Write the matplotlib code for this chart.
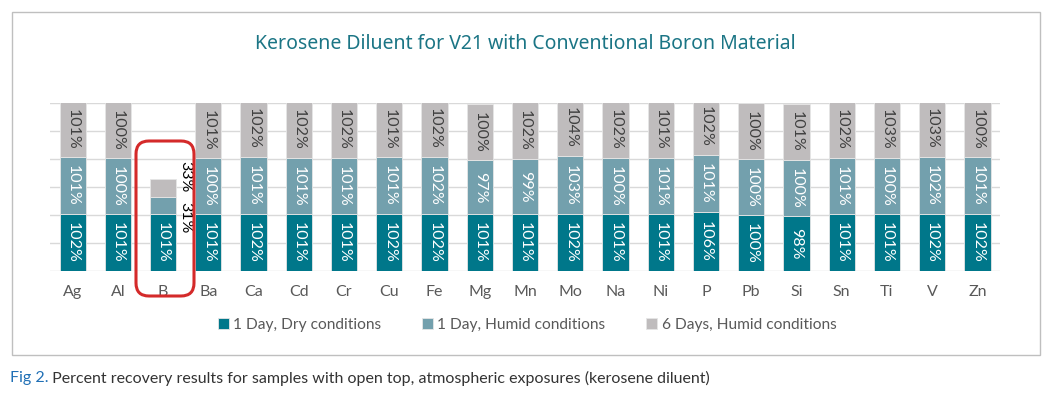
import matplotlib
matplotlib.use("Agg")
import matplotlib.pyplot as plt
from matplotlib.patches import FancyBboxPatch, Rectangle
from matplotlib.transforms import IdentityTransform
import numpy as np

categories = ["Ag", "Al", "B", "Ba", "Ca", "Cd", "Cr", "Cu", "Fe", "Mg", "Mn",
              "Mo", "Na", "Ni", "P", "Pb", "Si", "Sn", "Ti", "V", "Zn"]
dry_1day = [102, 101, 101, 101, 102, 101, 101, 102, 102, 101, 101,
            102, 101, 101, 106, 100, 98, 101, 101, 102, 102]
humid_1day = [101, 100, 31, 100, 101, 101, 101, 101, 102, 97, 99,
              103, 100, 101, 101, 100, 100, 101, 100, 102, 101]
humid_6day = [101, 100, 33, 101, 102, 102, 102, 101, 102, 100, 102,
              104, 102, 101, 102, 100, 101, 102, 103, 103, 100]
series_names = ["1 Day, Dry conditions", "1 Day, Humid conditions", "6 Days, Humid conditions"]
title = "Kerosene Diluent for V21 with Conventional Boron Material"
caption_lead = "Fig 2."
caption_rest = " Percent recovery results for samples with open top, atmospheric exposures (kerosene diluent)"

colors = ["#00778a", "#73a0ad", "#bfbcbd"]
label_colors = ["white", "white", "#404040"]
font = "Lato"

W, H = 1054, 393
fig = plt.figure(figsize=(W / 100, H / 100), dpi=100)
ax = fig.add_axes([50 / W, (H - 271) / H, 950 / W, 168 / H])

x = np.arange(len(categories))
series = [np.array(dry_1day), np.array(humid_1day), np.array(humid_6day)]
bottom = np.zeros(len(categories))
outside_idx = categories.index("B")
for s, (vals, col, lc, name) in enumerate(zip(series, colors, label_colors, series_names)):
    ax.bar(x, vals, bottom=bottom, width=0.58, color=col, edgecolor="#e6e6e6",
           linewidth=0.6, label=name, zorder=3)
    for i, v in enumerate(vals):
        if i == outside_idx and s > 0:
            continue
        ax.text(x[i], bottom[i] + v / 2, f"{v}%", rotation=270, ha="center", va="center",
                color=lc, fontsize=11.5, family=font, zorder=4)
    bottom = bottom + vals

# outside labels for B
bi = outside_idx
ax.text(bi + 0.5, bottom[bi] + 3, f"{humid_6day[bi]}%", rotation=270, ha="center", va="center",
        color="black", fontsize=11.5, family=font, zorder=4)
ax.text(bi + 0.5, dry_1day[bi] - 6, f"{humid_1day[bi]}%", rotation=270, ha="center", va="center",
        color="black", fontsize=11.5, family=font, zorder=4)

ax.set_xlim(-0.5, len(categories) - 0.5)
ax.set_ylim(0, 300)
ax.set_yticks(np.arange(0, 301, 50))
ax.yaxis.grid(True, color="#d9d9d9", linewidth=1, zorder=0)
ax.tick_params(axis="y", left=False, labelleft=False)
ax.set_xticks(x)
ax.set_xticklabels(categories, fontsize=11.5, family=font, color="#595959")
ax.tick_params(axis="x", length=0, pad=10)
for sp in ax.spines.values():
    sp.set_visible(False)

leg = fig.legend(loc="center", bbox_to_anchor=(527 / W, (H - 325) / H), ncol=3,
                 frameon=False, handlelength=0.7, handleheight=0.7, handletextpad=0.3,
                 columnspacing=2.6, prop={"family": font, "size": 11.2})
for t in leg.get_texts():
    t.set_color("#595959")

fig.text(525 / W, (H - 44) / H, title, ha="center", va="center", fontsize=14,
         color="#1b7585", family="Noto Sans", fontweight="medium")

# chart border
fig.patches.append(Rectangle((12, H - 355), 1028, 343, transform=IdentityTransform(),
                             fill=False, edgecolor="#bfbfbf", linewidth=1))
# red highlight box
fig.patches.append(FancyBboxPatch((136, H - 296), 58, 155,
                                  boxstyle="round,pad=0,rounding_size=13",
                                  transform=IdentityTransform(), fill=False,
                                  edgecolor="#d42a2a", linewidth=2.2, zorder=5))

t1 = fig.text(10 / W, (H - 378) / H, caption_lead, ha="left", va="center", fontsize=11.5,
              color="#1f6fb5", family=font)
fig.canvas.draw()
bb = t1.get_window_extent()
fig.text(bb.x1 / W, (H - 378) / H, caption_rest, ha="left", va="center", fontsize=11.5,
         color="#333333", family=font)

fig.savefig("out.png", dpi=100)
